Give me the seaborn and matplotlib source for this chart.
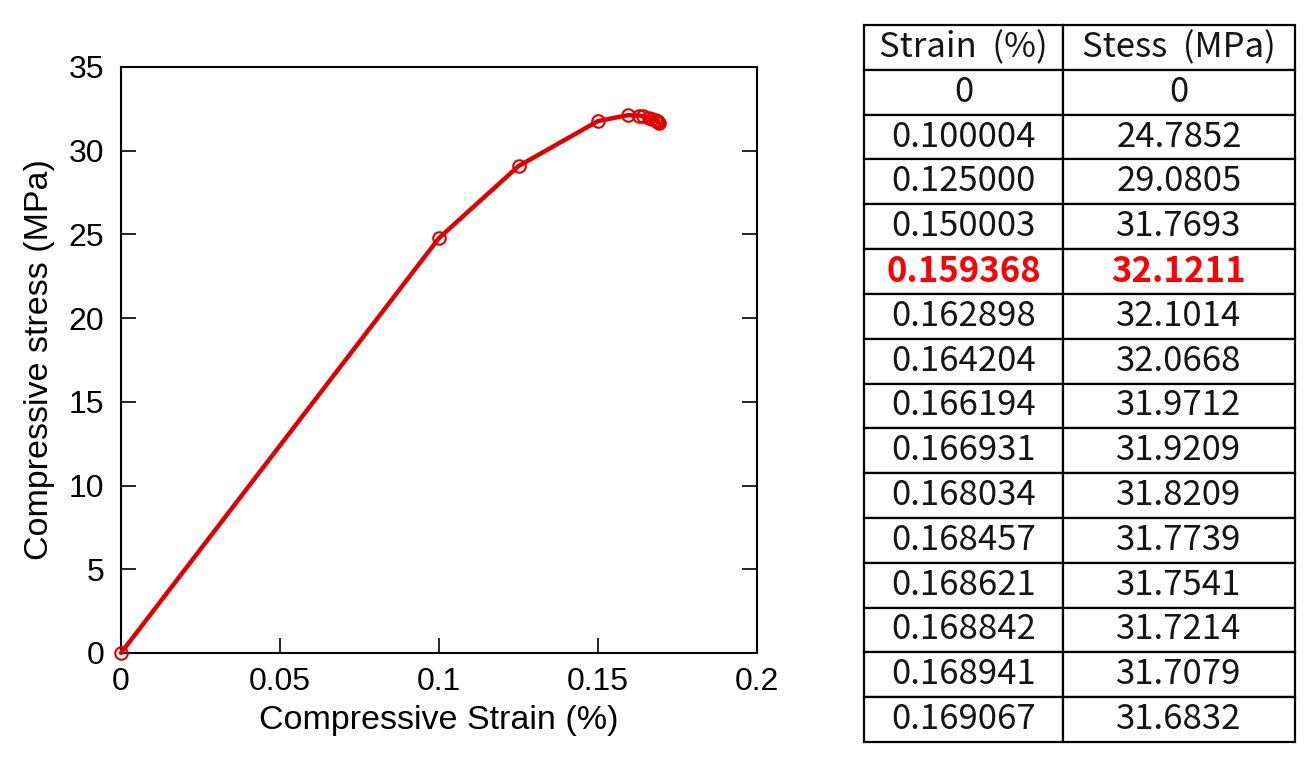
import matplotlib
matplotlib.use("Agg")
import matplotlib.pyplot as plt
import pandas as pd
import seaborn as sns

strain = [0, 0.100004, 0.125000, 0.150003, 0.159368, 0.162898, 0.164204, 0.166194,
          0.166931, 0.168034, 0.168457, 0.168621, 0.168842, 0.168941, 0.169067]
stress = [0, 24.7852, 29.0805, 31.7693, 32.1211, 32.1014, 32.0668, 31.9712,
          31.9209, 31.8209, 31.7739, 31.7541, 31.7214, 31.7079, 31.6832]
strain_labels = ["0", "0.100004", "0.125000", "0.150003", "0.159368", "0.162898", "0.164204",
                 "0.166194", "0.166931", "0.168034", "0.168457", "0.168621", "0.168842",
                 "0.168941", "0.169067"]
stress_labels = ["0", "24.7852", "29.0805", "31.7693", "32.1211", "32.1014", "32.0668",
                 "31.9712", "31.9209", "31.8209", "31.7739", "31.7541", "31.7214",
                 "31.7079", "31.6832"]
headers = ["Strain  (%)", "Stess  (MPa)"]
peak_row = 4

df = pd.DataFrame({"strain": strain, "stress": stress})

sns.set_style("white")
plt.rcParams["font.family"] = ["Liberation Sans", "DejaVu Sans"]

W, H = 1312, 764
fig = plt.figure(figsize=(W / 100, H / 100), dpi=100)
ax = fig.add_axes([121 / W, 1 - 653 / H, (757 - 121) / W, (653 - 67) / H])

red = "#e00000"
sns.lineplot(data=df, x="strain", y="stress", color=red, linewidth=3.2, ax=ax,
             marker="o", markersize=9, markerfacecolor="none",
             markeredgecolor=red, markeredgewidth=1.5, clip_on=False, zorder=5)
ax.set_xlim(0, 0.2)
ax.set_ylim(0, 35)
ax.set_xticks([0, 0.05, 0.1, 0.15, 0.2])
ax.set_xticklabels(["0", "0.05", "0.1", "0.15", "0.2"])
ax.set_yticks(range(0, 36, 5))
ax.tick_params(direction="in", length=11, width=1.2, labelsize=23,
               right=True, bottom=True, left=True, top=False, colors="black")
ax.tick_params(axis="y", pad=12)
ax.tick_params(axis="x", pad=10)
for s in ax.spines.values():
    s.set_color("black")
    s.set_linewidth(1.5)
ax.set_xlabel("Compressive Strain (%)", fontsize=24.5, labelpad=6, color="black")
ax.set_ylabel("Compressive stress (MPa)", fontsize=24.5, labelpad=10, color="black")

# data table
tax = fig.add_axes([864 / W, 1 - 742 / H, (1295 - 864) / W, (742 - 25) / H])
tax.axis("off")
cells = [[a, b] for a, b in zip(strain_labels, stress_labels)]
tbl = tax.table(cellText=cells, colLabels=headers, bbox=[0, 0, 1, 1],
                cellLoc="center", colWidths=[199, 232])
tbl.auto_set_font_size(False)
for (r, c), cell in tbl.get_celld().items():
    cell.set_edgecolor("black")
    cell.set_linewidth(1.6)
    txt = cell.get_text()
    txt.set_fontsize(25)
    txt.set_fontfamily(["Noto Sans CJK KR", "DejaVu Sans"])
    txt.set_color("#151515")
    if r == peak_row + 1:
        txt.set_color("#ff0000")
        txt.set_fontweight("bold")

fig.savefig("out.png", dpi=100)
